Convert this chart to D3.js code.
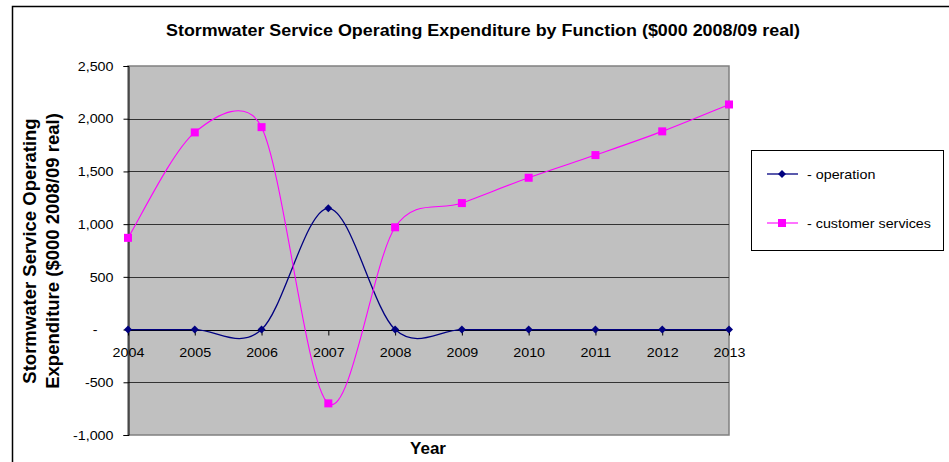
<!DOCTYPE html>
<html>
<head>
<meta charset="utf-8">
<script src="https://cdn.jsdelivr.net/npm/d3@7"></script>
<style>
  body { margin: 0; background: #fff; }
  svg text { font-family: Arial, "Liberation Sans", sans-serif; }
</style>
</head>
<body>
<svg id="chart" width="949" height="462"></svg>
<script>
// chart data
var years = [2004, 2005, 2006, 2007, 2008, 2009, 2010, 2011, 2012, 2013];
var operation = [0, 0, 0, 1150, 0, 0, 0, 0, 0, 0];
var customerServices = [870, 1870, 1920, -700, 970, 1200, 1440, 1655, 1880, 2135];
var yTicks = [-1000, -500, 0, 500, 1000, 1500, 2000, 2500];
var seriesNames = ['- operation', '- customer services'];

var svg = d3.select('#chart');

var plot = { left: 128, right: 729, top: 66, bottom: 435 };

var x = d3.scalePoint().domain(years).range([plot.left, plot.right]);
var y = d3.scaleLinear().domain([-1000, 2500]).range([plot.bottom, plot.top]);

// widen text a little, the reference glyphs are broader than Liberation Sans
var stretch = function(sel, k) {
  sel.each(function() {
    var w = this.getComputedTextLength();
    d3.select(this).attr('textLength', w * k).attr('lengthAdjust', 'spacingAndGlyphs');
  });
};

// outer frame
svg.append('path')
  .attr('d', 'M 12.5 462 L 12.5 6.5 L 949 6.5')
  .attr('fill', 'none')
  .attr('stroke', '#000')
  .attr('stroke-width', 1.5);

// plot background
svg.append('rect')
  .attr('x', plot.left)
  .attr('y', plot.top)
  .attr('width', plot.right - plot.left)
  .attr('height', plot.bottom - plot.top)
  .attr('fill', '#c0c0c0')
  .attr('stroke', '#808080')
  .attr('stroke-width', 1.5);

// gridlines
svg.append('g')
  .selectAll('line')
  .data(yTicks.filter(function(d) { return d > -1000 && d < 2500; }))
  .enter()
  .append('line')
  .attr('x1', plot.left)
  .attr('x2', plot.right)
  .attr('y1', function(d) { return Math.round(y(d)) + 0.5; })
  .attr('y2', function(d) { return Math.round(y(d)) + 0.5; })
  .attr('stroke', '#333')
  .attr('stroke-width', 1);

// y axis
var locale = d3.formatLocale({ decimal: '.', thousands: ',', grouping: [3], currency: ['$', ''], minus: '-' });
var fmt = function(d) { return d === 0 ? '-' : locale.format(',')(d); };
var yAxis = svg.append('g')
  .attr('transform', 'translate(' + (plot.left + 0.5) + ',0)')
  .call(d3.axisLeft(y).tickValues(yTicks).tickFormat(fmt).tickSize(5).tickPadding(10));
yAxis.select('.domain').attr('stroke', '#000');
yAxis.selectAll('text').attr('font-size', 13).attr('fill', '#000')
  .attr('font-family', 'Arial, "Liberation Sans", sans-serif')
  .call(stretch, 1.1);
yAxis.selectAll('.tick').filter(function(d) { return d === 0; })
  .select('text').attr('dx', -16);

// x axis at zero
var xAxis = svg.append('g')
  .attr('transform', 'translate(0,' + (Math.round(y(0)) + 0.5) + ')')
  .call(d3.axisBottom(x).tickSize(5).tickPadding(12));
xAxis.select('.domain').remove();
xAxis.selectAll('text').attr('font-size', 13).attr('fill', '#000')
  .attr('font-family', 'Arial, "Liberation Sans", sans-serif')
  .call(stretch, 1.1);
svg.append('line')
  .attr('x1', plot.left).attr('x2', plot.right)
  .attr('y1', Math.round(y(0)) + 0.5).attr('y2', Math.round(y(0)) + 0.5)
  .attr('stroke', '#000');

// series
var series = [
  { name: seriesNames[0], values: operation, color: '#000080', marker: 'diamond', width: 1.3 },
  { name: seriesNames[1], values: customerServices, color: '#ff00ff', marker: 'square', width: 1.1 }
];

// Excel-like smoothing: bezier with (next - prev)/6 tangents, capped at half the segment
var smoothPath = function(values) {
  var pts = values.map(function(v, i) { return [x(years[i]), y(v)]; });
  var n = pts.length;
  var tangent = function(i) {
    var a = pts[Math.max(i - 1, 0)], b = pts[Math.min(i + 1, n - 1)];
    return [(b[0] - a[0]) / 6, (b[1] - a[1]) / 6];
  };
  var cap = function(t, len) {
    var l = Math.hypot(t[0], t[1]);
    var k = l > len / 2 ? (len / 2) / l : 1;
    return [t[0] * k, t[1] * k];
  };
  var p = d3.path();
  p.moveTo(pts[0][0], pts[0][1]);
  for (var i = 0; i < n - 1; i++) {
    var p1 = pts[i], p2 = pts[i + 1];
    var seg = Math.hypot(p2[0] - p1[0], p2[1] - p1[1]);
    var t1 = cap(tangent(i), seg), t2 = cap(tangent(i + 1), seg);
    p.bezierCurveTo(p1[0] + t1[0], p1[1] + t1[1], p2[0] - t2[0], p2[1] - t2[1], p2[0], p2[1]);
  }
  return p.toString();
};

var drawMarker = function(g, kind, color) {
  if (kind === 'diamond') {
    g.append('path').attr('d', 'M 0 -4 L 4 0 L 0 4 L -4 0 Z').attr('fill', color);
  } else {
    g.append('rect').attr('x', -4).attr('y', -4).attr('width', 8).attr('height', 8).attr('fill', color);
  }
};

series.forEach(function(s) {
  svg.append('path')
    .attr('d', smoothPath(s.values))
    .attr('fill', 'none')
    .attr('stroke', s.color)
    .attr('stroke-width', s.width);
  s.values.forEach(function(v, i) {
    var g = svg.append('g').attr('transform', 'translate(' + x(years[i]) + ',' + y(v) + ')');
    drawMarker(g, s.marker, s.color);
  });
});

// title
svg.append('text')
  .attr('x', 483)
  .attr('y', 36)
  .attr('text-anchor', 'middle')
  .attr('font-size', 16)
  .attr('font-weight', 'bold')
  .attr('textLength', 634)
  .attr('lengthAdjust', 'spacingAndGlyphs')
  .text('Stormwater Service Operating Expenditure by Function ($000 2008/09 real)');

// axis titles
var yTitle = svg.append('text')
  .attr('transform', 'translate(36,251) rotate(-90)')
  .attr('text-anchor', 'middle')
  .attr('font-size', 18.5)
  .attr('font-weight', 'bold');
yTitle.append('tspan').attr('x', 0).attr('dy', 0).text('Stormwater Service Operating');
yTitle.append('tspan').attr('x', 0).attr('dy', 23).text('Expenditure ($000 2008/09 real)');

svg.append('text')
  .attr('x', 428)
  .attr('y', 454)
  .attr('text-anchor', 'middle')
  .attr('font-size', 17)
  .attr('font-weight', 'bold')
  .text('Year');

// legend
var legend = svg.append('g');
legend.append('rect')
  .attr('x', 751.5).attr('y', 150.5)
  .attr('width', 192).attr('height', 100)
  .attr('fill', '#fff').attr('stroke', '#000');

series.forEach(function(s, i) {
  var ly = 174 + i * 49;
  legend.append('line')
    .attr('x1', 767).attr('x2', 798)
    .attr('y1', ly).attr('y2', ly)
    .attr('stroke', s.color).attr('stroke-width', s.width);
  drawMarker(legend.append('g').attr('transform', 'translate(782,' + ly + ')'), s.marker, s.color);
  legend.append('text')
    .attr('x', 807).attr('y', ly + 4.5)
    .attr('font-size', 13)
    .text(s.name)
    .call(stretch, 1.1);
});
</script>
</body>
</html>
